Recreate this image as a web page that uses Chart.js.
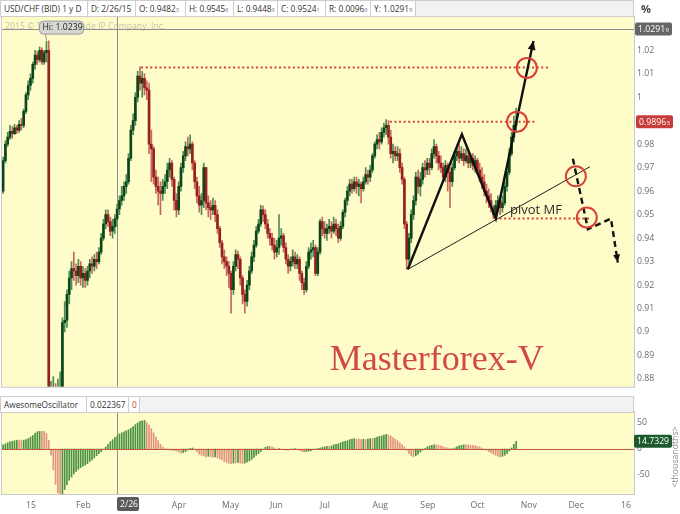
<!DOCTYPE html>
<html><head><meta charset="utf-8">
<script src="https://cdn.jsdelivr.net/npm/chart.js@4.4.1/dist/chart.umd.min.js"></script>
<style>
html,body{margin:0;padding:0;background:#fff;width:680px;height:514px;overflow:hidden;font-family:'Open Sans',sans-serif;}
canvas{position:absolute;left:0;}
#c1{top:0;}
#c2{top:395px;}
.bar{position:absolute;left:0;width:634px;height:17px;background:#f2f2f2;border:1px solid #cdcdcd;box-sizing:border-box;display:flex;font-size:8.3px;color:#333;line-height:15px;white-space:nowrap;}
.cell{background:#fff;border-right:1px solid #cdcdcd;padding:0 2px 0 3px;box-sizing:border-box;overflow:hidden;}
.cell small{font-size:5.6px;color:#777;}
#icon{position:absolute;left:641px;top:1px;font-size:11px;color:#444;font-weight:bold;}
</style></head><body>
<canvas id="c1" width="680" height="395"></canvas>
<canvas id="c2" width="680" height="119"></canvas>
<div class="bar" style="top:0">
  <div class="cell" style="width:87px">USD/CHF (BID) 1 y D</div>
  <div class="cell" style="width:48px">D: 2/26/15</div>
  <div class="cell" style="width:50px">O: 0.9482<small>3</small></div>
  <div class="cell" style="width:48px">H: 0.9545<small>8</small></div>
  <div class="cell" style="width:44px">L: 0.9448<small>9</small></div>
  <div class="cell" style="width:48px">C: 0.9524<small>1</small></div>
  <div class="cell" style="width:45px">R: 0.0096<small>9</small></div>
  <div class="cell" style="width:45px">Y: 1.0291<small>9</small></div>
</div>
<div id="icon">%</div>
<div class="bar" style="top:396px">
  <div class="cell" style="width:86px">AwesomeOscillator</div>
  <div class="cell" style="width:42px">0.022367</div>
  <div class="cell" style="width:11px;color:#c23b3b">0</div>
</div>
<script>
// ---- DATA (prices x10000), first bar index = -10 (trading days from 1 Jan 2015) ----
const FIRST_INDEX = -10;
const FIRST_OPEN = 9600;
const closes = [
 9730,9800,9830,9855,9845,9870,9860,9885,9880,9940,
 10010,10050,10080,10140,10180,10160,10200,10150,10190,10200,
 8580,8640,8700,8650,8720,8760,9040,9050,9160,9230,
 9270,9260,9240,9280,9230,9250,9220,9260,9290,9280,
 9310,9300,9340,9400,9460,9500,9470,9430,9450,9482,
 9524,9560,9580,9620,9640,9740,9860,9900,10000,10090,
 10060,10080,10040,10030,9800,9780,9660,9620,9600,9590,
 9620,9640,9690,9720,9650,9560,9520,9620,9700,9750,
 9790,9780,9800,9720,9640,9580,9540,9560,9700,9550,
 9530,9520,9540,9500,9440,9380,9320,9300,9280,9250,
 9180,9280,9330,9310,9230,9160,9130,9200,9260,9320,
 9370,9430,9460,9520,9500,9460,9420,9400,9370,9340,
 9360,9400,9410,9360,9310,9280,9300,9320,9290,9310,
 9250,9210,9180,9280,9340,9350,9360,9250,9340,9470,
 9440,9420,9440,9450,9430,9460,9440,9400,9450,9510,
 9560,9600,9630,9610,9640,9620,9630,9610,9640,9670,
 9660,9690,9750,9800,9820,9810,9850,9870,9880,9830,
 9760,9770,9750,9760,9700,9650,9460,9310,9400,9500,
 9560,9660,9620,9650,9700,9690,9720,9700,9760,9790,
 9750,9720,9700,9660,9710,9680,9640,9700,9750,9770,
 9740,9760,9730,9750,9720,9740,9710,9730,9690,9660,
 9640,9600,9580,9560,9530,9500,9540,9560,9530,9550,
 9620,9680,9760,9830,9880,9896
];
const highs = [
 9745,9815,9850,9880,9875,9885,9880,9900,9910,9950,
 10020,10070,10100,10150,10200,10195,10215,10210,10200,10239,
 10240,8790,8810,8780,8800,8830,9060,9130,9180,9260,
 9300,9340,9290,9310,9300,9280,9270,9280,9310,9320,
 9330,9340,9360,9420,9480,9520,9520,9490,9480,9500,
 9545,9580,9620,9640,9670,9760,9880,9930,10020,10110,
 10129,10110,10100,10070,10060,9860,9790,9690,9660,9640,
 9650,9670,9720,9740,9730,9660,9590,9640,9720,9770,
 9810,9830,9840,9810,9730,9660,9620,9590,9720,9700,
 9580,9560,9570,9560,9520,9450,9390,9350,9320,9300,
 9260,9300,9350,9345,9320,9240,9180,9220,9280,9340,
 9390,9450,9480,9540,9537,9520,9480,9440,9420,9400,
 9390,9500,9440,9420,9380,9330,9320,9350,9340,9330,
 9320,9260,9230,9300,9360,9380,9390,9370,9360,9480,
 9490,9470,9460,9480,9470,9490,9480,9460,9470,9520,
 9570,9620,9650,9650,9660,9660,9650,9640,9660,9700,
 9690,9710,9760,9810,9840,9850,9870,9890,9905,9900,
 9860,9800,9790,9790,9780,9720,9660,9470,9420,9520,
 9580,9680,9690,9680,9720,9730,9740,9740,9780,9820,
 9800,9770,9750,9720,9730,9720,9700,9720,9770,9790,
 9800,9790,9780,9780,9770,9760,9760,9750,9740,9720,
 9700,9670,9630,9610,9590,9540,9560,9580,9570,9580,
 9640,9700,9780,9850,9920,9954
];
const lows = [
 9590,9720,9790,9820,9825,9840,9845,9850,9860,9870,
 9930,9990,10030,10060,10120,10140,10150,10140,10140,10150,
 7400,8500,8560,8590,8600,8680,8740,9000,9020,9120,
 9180,9220,9200,9210,9200,9190,9190,9200,9230,9250,
 9260,9270,9290,9330,9390,9440,9450,9410,9400,9420,
 9448,9500,9540,9560,9590,9630,9730,9840,9880,9980,
 10030,10000,10010,9990,9760,9640,9630,9590,9540,9500,
 9560,9590,9610,9660,9620,9520,9490,9500,9600,9680,
 9730,9750,9760,9690,9610,9550,9510,9500,9530,9520,
 9490,9480,9500,9470,9420,9360,9290,9270,9240,9190,
 9080,9160,9260,9270,9200,9120,9080,9110,9180,9250,
 9300,9360,9420,9450,9470,9440,9400,9370,9350,9310,
 9320,9330,9370,9340,9290,9250,9260,9280,9270,9270,
 9220,9180,9160,9170,9270,9310,9320,9240,9240,9330,
 9410,9400,9390,9420,9400,9420,9410,9380,9390,9440,
 9490,9540,9580,9590,9600,9590,9580,9550,9600,9630,
 9630,9640,9680,9740,9780,9780,9800,9830,9840,9800,
 9740,9720,9730,9730,9680,9630,9440,9267,9290,9380,
 9480,9540,9590,9580,9630,9660,9670,9670,9690,9740,
 9720,9690,9680,9640,9640,9600,9530,9620,9690,9730,
 9720,9730,9710,9720,9700,9700,9690,9680,9670,9640,
 9610,9580,9550,9530,9510,9483,9490,9510,9500,9510,
 9540,9600,9670,9750,9810,9850
];
// Awesome Oscillator (thousandths)
const aoValues = [
 8,10,12,14,15,16,17,17,16,17,
 18,20,23,26,30,33,34,34,34,30,
 17,-12,-40,-68,-84,-88,-86,-78,-69,-60,
 -54,-48,-43,-39,-36,-33,-31,-28,-24,-21,
 -17,-13,-9,-5,-1,4,9,14,18,22,
 25,29,31,33,35,37,40,43,47,50,
 53,54,55,51,46,39,31,23,16,9,
 4,1,-1,-2,-2,-3,-4,-6,-8,-7,
 -5,-2,1,2,-1,-5,-10,-12,-13,-15,
 -14,-15,-16,-15,-17,-19,-21,-24,-26,-27,
 -28,-27,-27,-26,-27,-28,-27,-25,-23,-20,
 -16,-12,-9,-5,-1,3,5,5,4,2,
 0,1,0,-1,-2,-2,-1,0,1,-1,
 -3,-5,-6,-5,-4,-3,-1,0,1,2,
 3,4,5,5,6,8,9,10,12,14,
 15,16,18,19,20,19,19,18,19,18,
 19,20,20,21,23,24,25,27,28,27,
 25,22,19,16,12,8,4,-3,-9,-13,
 -15,-13,-10,-6,-2,1,4,6,7,8,
 8,7,6,4,3,2,1,1,2,4,
 6,7,8,8,8,7,7,6,5,4,
 2,0,-2,-5,-7,-10,-12,-14,-15,-14,
 -12,-9,-4,2,9,14.7329
];
const priceTicks = [1.02,1.01,1.00,0.98,0.97,0.96,0.95,0.94,0.93,0.92,0.91,0.90,0.89,0.88];
const aoTicks = [50,0,-50];
const monthTickIdx = [0,22,64,86,107,129,152,173,195,217,238,261];
const monthTickLabels = ['15','Feb','Apr','May','Jun','Jul','Aug','Sep','Oct','Nov','Dec','16'];
const X_MIN = -10.5, X_MAX = 266.7;
const Y_MIN = 0.87667, Y_MAX = 1.03417;
const AO_MIN = -86.5, AO_MAX = 71.15;
const CROSS_INDEX = 40, CROSS_LABEL = '2/26', CROSS_PRICE = 1.0291;
const LAST_PRICE = 0.9896, LAST_AO = 14.7329;
const HI_INDEX = 9, HI_PRICE = 1.0239;
// annotations in data coordinates [index, price]
const levelLines = [[1.0127,50.5,229],[0.9896,159.6,224],[0.9483,205.7,248]];
const circles = [[219.7,1.0125],[215.4,0.9896],[241.2,0.9663],[246.0,0.9488]];
const zigzag = [[167.5,0.9267],[191.2,0.9842],[206.1,0.9483],[222.6,1.0240]];
const trendLine = [[167.5,0.9267],[247.4,0.9704]];
const dashedPath = [[239.9,0.9738],[246.5,0.9438],[256.6,0.9483],[259.6,0.9296]];
const pivotText = {i:212.3, p:0.9501, text:'pivot MF'};
const brandText = {i:133.3, p:0.8838, text:'Masterforex-V'};
const WATERMARK = '2015 \u00A9 TD Ameritrade IP Company, Inc.';

// ---- build ----
const P = v => v / 10000;
const xs = closes.map((_, k) => FIRST_INDEX + k);
const opens = closes.map((c, k) => k === 0 ? FIRST_OPEN : closes[k - 1]);
const isUp = closes.map((c, k) => c >= opens[k]);
const bodyData = xs.map((x, k) => ({x, y:[P(opens[k]), P(closes[k])]}));
const wickData = xs.map((x, k) => ({x, y:[P(lows[k]), P(highs[k])]}));
const aoData = xs.map((x, k) => ({x, y: aoValues[k]}));
const aoUp = aoValues.map((v, k) => k === 0 ? true : v > aoValues[k - 1]);

const BG = '#fefcc8';
const RED = '#d8403a';
const FONT = '"Open Sans", sans-serif';
const tickFont = {family:'Open Sans', size:8.7};

function rrect(ctx, x, y, w, h, r) {
  ctx.beginPath();
  if (ctx.roundRect) ctx.roundRect(x, y, w, h, r); else ctx.rect(x, y, w, h);
}
function valueBox(ctx, x, yc, w, bg, main, sub) {
  ctx.save();
  rrect(ctx, x, yc - 6.5, w, 13, 2);
  ctx.fillStyle = bg; ctx.fill();
  ctx.fillStyle = '#fff'; ctx.textBaseline = 'middle'; ctx.textAlign = 'left';
  ctx.font = '8.7px ' + FONT;
  ctx.fillText(main, x + 3, yc + 0.5);
  if (sub) {
    const w1 = ctx.measureText(main).width;
    ctx.font = '6px ' + FONT;
    ctx.fillText(sub, x + 3 + w1 + 0.5, yc + 1.5);
  }
  ctx.restore();
}
function arrowHead(ctx, x0, y0, x1, y1, len, half) {
  const a = Math.atan2(y1 - y0, x1 - x0), c = Math.cos(a), s = Math.sin(a);
  ctx.beginPath();
  ctx.moveTo(x1, y1);
  ctx.lineTo(x1 - len * c + half * s, y1 - len * s - half * c);
  ctx.lineTo(x1 - len * c - half * s, y1 - len * s + half * c);
  ctx.closePath(); ctx.fill();
}

const mainPlugin = {
  id: 'mainDecor',
  beforeDatasetsDraw(chart) {
    const {ctx, chartArea: a, scales: {x, y}} = chart;
    ctx.save();
    ctx.fillStyle = BG; ctx.fillRect(a.left, a.top, a.width, a.height);
    ctx.font = '8.7px ' + FONT; ctx.fillStyle = '#c5c3aa'; ctx.textBaseline = 'middle';
    ctx.fillText(WATERMARK, a.left + 3, a.top + 10);
    ctx.strokeStyle = '#8e8e8e'; ctx.lineWidth = 1;
    const cx = Math.round(x.getPixelForValue(CROSS_INDEX)) + 0.5;
    ctx.beginPath(); ctx.moveTo(cx, a.top); ctx.lineTo(cx, a.bottom); ctx.stroke();
    const cy = Math.round(y.getPixelForValue(CROSS_PRICE)) + 0.5;
    ctx.beginPath(); ctx.moveTo(a.left, cy); ctx.lineTo(a.right, cy); ctx.stroke();
    ctx.restore();
  },
  afterDatasetsDraw(chart) {
    const {ctx, chartArea: a, scales: {x, y}} = chart;
    const X = v => x.getPixelForValue(v), Y = v => y.getPixelForValue(v);
    ctx.save();
    ctx.beginPath(); ctx.rect(a.left, a.top, a.width, a.height); ctx.clip();
    // dotted level lines
    ctx.strokeStyle = RED; ctx.lineWidth = 2; ctx.setLineDash([2, 2.6]);
    levelLines.forEach(([p, i0, i1]) => {
      ctx.beginPath(); ctx.moveTo(X(i0), Y(p)); ctx.lineTo(X(i1), Y(p)); ctx.stroke();
    });
    ctx.setLineDash([]);
    // thin trend line
    ctx.strokeStyle = '#222'; ctx.lineWidth = 1;
    ctx.beginPath(); ctx.moveTo(X(trendLine[0][0]), Y(trendLine[0][1]));
    ctx.lineTo(X(trendLine[1][0]), Y(trendLine[1][1])); ctx.stroke();
    // zigzag with arrow
    ctx.strokeStyle = '#111'; ctx.fillStyle = '#111'; ctx.lineWidth = 2.4; ctx.lineJoin = 'miter';
    ctx.beginPath();
    zigzag.forEach(([i, p], k) => k ? ctx.lineTo(X(i), Y(p)) : ctx.moveTo(X(i), Y(p)));
    ctx.stroke();
    const zn = zigzag.length;
    arrowHead(ctx, X(zigzag[zn-2][0]), Y(zigzag[zn-2][1]), X(zigzag[zn-1][0]), Y(zigzag[zn-1][1]), 9, 4);
    // dashed path with arrow
    ctx.setLineDash([6, 4]); ctx.lineWidth = 2.4;
    ctx.beginPath();
    dashedPath.forEach(([i, p], k) => k ? ctx.lineTo(X(i), Y(p)) : ctx.moveTo(X(i), Y(p)));
    ctx.stroke();
    ctx.setLineDash([]);
    const dn = dashedPath.length;
    arrowHead(ctx, X(dashedPath[dn-2][0]), Y(dashedPath[dn-2][1]), X(dashedPath[dn-1][0]), Y(dashedPath[dn-1][1]), 8, 3.5);
    // circles
    ctx.strokeStyle = RED; ctx.lineWidth = 2;
    circles.forEach(([i, p]) => { ctx.beginPath(); ctx.arc(X(i), Y(p), 10, 0, Math.PI * 2); ctx.stroke(); });
    // texts
    ctx.fillStyle = '#2a2a2a'; ctx.font = '13px ' + FONT; ctx.textBaseline = 'alphabetic'; ctx.textAlign = 'left';
    ctx.fillText(pivotText.text, X(pivotText.i), Y(pivotText.p));
    ctx.fillStyle = '#d24846'; ctx.font = '36px "Liberation Serif", "Times New Roman", serif';
    ctx.fillText(brandText.text, X(brandText.i), Y(brandText.p));
    // Hi label
    const hx = X(HI_INDEX), hy = Y(HI_PRICE);
    ctx.strokeStyle = '#9a9a9a'; ctx.lineWidth = 1;
    ctx.beginPath(); ctx.moveTo(hx, hy - 1); ctx.lineTo(hx - 1, hy - 7); ctx.stroke();
    rrect(ctx, hx - 7, hy - 20, 44, 13, 4);
    ctx.fillStyle = '#d6d6d2'; ctx.fill(); ctx.stroke();
    ctx.fillStyle = '#222'; ctx.font = '8.7px ' + FONT; ctx.textBaseline = 'middle';
    ctx.fillText('Hi: 1.0239', hx - 4, hy - 13.2);
    ctx.restore();
  },
  afterDraw(chart) {
    const {ctx, chartArea: a, scales: {y}} = chart;
    ctx.save();
    ctx.strokeStyle = '#c9c9c9'; ctx.lineWidth = 1;
    ctx.strokeRect(a.left - 0.5, a.top - 0.5, a.width + 1, a.height + 1);
    ctx.restore();
    valueBox(ctx, a.right + 1, y.getPixelForValue(CROSS_PRICE), 37, '#666666', '1.0291', '9');
    valueBox(ctx, a.right + 2, y.getPixelForValue(LAST_PRICE), 37, '#c63c3a', '0.9896', '3');
  }
};

const oscPlugin = {
  id: 'oscDecor',
  beforeDatasetsDraw(chart) {
    const {ctx, chartArea: a, scales: {x}} = chart;
    ctx.save();
    ctx.fillStyle = BG; ctx.fillRect(a.left, a.top, a.width, a.height);
    ctx.strokeStyle = '#8e8e8e'; ctx.lineWidth = 1;
    const cx = Math.round(x.getPixelForValue(CROSS_INDEX)) + 0.5;
    ctx.beginPath(); ctx.moveTo(cx, a.top); ctx.lineTo(cx, a.bottom); ctx.stroke();
    ctx.restore();
  },
  afterDatasetsDraw(chart) {
    const {ctx, chartArea: a, scales: {y}} = chart;
    ctx.save();
    ctx.strokeStyle = '#c4583c'; ctx.lineWidth = 1;
    const zy = Math.round(y.getPixelForValue(0)) + 0.5;
    ctx.beginPath(); ctx.moveTo(a.left, zy); ctx.lineTo(a.right, zy); ctx.stroke();
    ctx.restore();
  },
  afterDraw(chart) {
    const {ctx, chartArea: a, scales: {x, y}} = chart;
    ctx.save();
    ctx.strokeStyle = '#c9c9c9'; ctx.lineWidth = 1;
    ctx.strokeRect(a.left - 0.5, a.top - 0.5, a.width + 1, a.height + 1);
    ctx.fillStyle = '#8a8a8a'; ctx.font = '8.7px ' + FONT; ctx.textAlign = 'center'; ctx.textBaseline = 'middle';
    ctx.translate(676, (a.top + a.bottom) / 2 + 4);
    ctx.rotate(-Math.PI / 2);
    ctx.fillText('<thousandths>', 0, 0);
    ctx.restore();
    valueBox(ctx, a.right, y.getPixelForValue(LAST_AO), 38, '#1c5a2d', '14.7329', '');
    ctx.save();
    const cx = Math.round(x.getPixelForValue(CROSS_INDEX));
    rrect(ctx, cx, a.bottom + 3, 22, 14, 2);
    ctx.fillStyle = '#5b5b5b'; ctx.fill();
    ctx.fillStyle = '#fff'; ctx.font = '8.7px ' + FONT; ctx.textBaseline = 'middle'; ctx.textAlign = 'left';
    ctx.fillText(CROSS_LABEL, cx + 3, a.bottom + 10.5);
    ctx.restore();
  }
};

Chart.defaults.font.family = 'Open Sans';

new Chart(document.getElementById('c1'), {
  type: 'bar',
  data: { datasets: [
    { label: 'wick', data: wickData, barThickness: 1, grouped: false, order: 2,
      backgroundColor: isUp.map(u => u ? '#4f8c55' : '#c9675e') },
    { label: 'body', data: bodyData, barThickness: 2, grouped: false, order: 1, minBarLength: 1,
      backgroundColor: isUp.map(u => u ? '#0b4519' : '#961f20') }
  ]},
  options: {
    responsive: false, animation: false, devicePixelRatio: 1,
    layout: { padding: { left: 2, top: 17, right: 0, bottom: 0 } },
    plugins: { legend: { display: false }, tooltip: { enabled: false } },
    scales: {
      x: { type: 'linear', min: X_MIN, max: X_MAX, display: false, offset: false, bounds: 'data' },
      y: { position: 'right', min: Y_MIN, max: Y_MAX, bounds: 'data',
        afterFit(s) { s.width = 46; },
        afterBuildTicks(s) { s.ticks = priceTicks.map(v => ({ value: v })); },
        grid: { display: false, drawTicks: false }, border: { display: false },
        ticks: { padding: 3, font: tickFont, color: '#6d6d6d', callback: v => String(+Number(v).toFixed(2)) } }
    }
  },
  plugins: [mainPlugin]
});

new Chart(document.getElementById('c2'), {
  type: 'bar',
  data: { datasets: [
    { label: 'AO', data: aoData, barThickness: 1, grouped: false,
      backgroundColor: aoUp.map(u => u ? '#4a9242' : '#e0947f') }
  ]},
  options: {
    responsive: false, animation: false, devicePixelRatio: 1,
    layout: { padding: { left: 2, top: 17, right: 0, bottom: 0 } },
    plugins: { legend: { display: false }, tooltip: { enabled: false } },
    scales: {
      x: { type: 'linear', min: X_MIN, max: X_MAX, offset: false, bounds: 'data',
        afterFit(s) { s.height = 20; },
        afterBuildTicks(s) { s.ticks = monthTickIdx.map(v => ({ value: v })); },
        grid: { display: false, drawTicks: false }, border: { display: false },
        ticks: { padding: 6, align: 'start', autoSkip: false, maxRotation: 0, minRotation: 0,
          font: tickFont, color: '#6d6d6d', callback: (v, k) => monthTickLabels[k] } },
      y: { position: 'right', min: AO_MIN, max: AO_MAX, bounds: 'data',
        afterFit(s) { s.width = 46; },
        afterBuildTicks(s) { s.ticks = aoTicks.map(v => ({ value: v })); },
        grid: { display: false, drawTicks: false }, border: { display: false },
        ticks: { padding: 3, font: tickFont, color: '#6d6d6d', callback: v => String(v) } }
    }
  },
  plugins: [oscPlugin]
});
</script>
</body></html>
